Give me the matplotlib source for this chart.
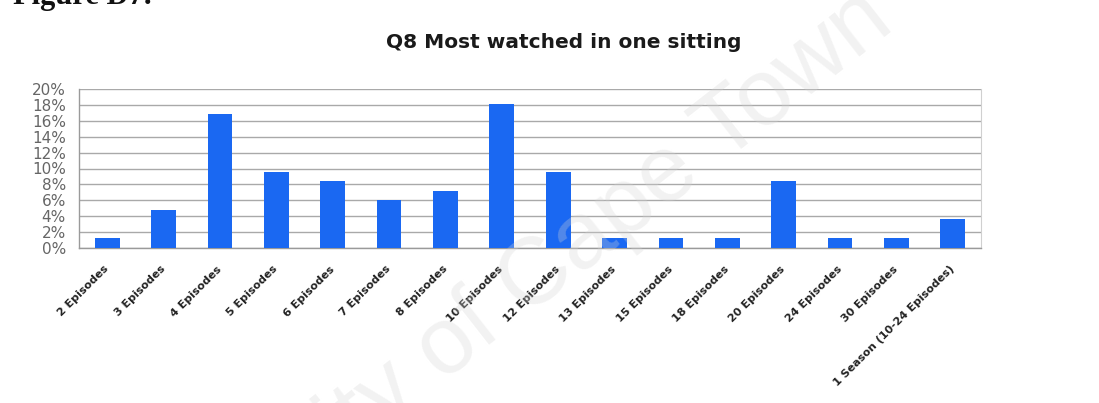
import matplotlib
matplotlib.use("Agg")
import matplotlib.pyplot as plt
import matplotlib.transforms as mtransforms
import numpy as np

# share of respondents per answer (%)
categories = ["2 Episodes", "3 Episodes", "4 Episodes", "5 Episodes", "6 Episodes",
              "7 Episodes", "8 Episodes", "10 Episodes", "12 Episodes", "13 Episodes",
              "15 Episodes", "18 Episodes", "20 Episodes", "24 Episodes", "30 Episodes",
              "1 Season (10-24 Episodes)"]
share = [1.2, 4.8, 16.9, 9.6, 8.4, 6.0, 7.2, 18.1, 9.6, 1.2, 1.2, 1.2, 8.4, 1.2, 1.2, 3.6]
yticks = list(range(0, 21, 2))

W, H = 1099, 403
fig = plt.figure(figsize=(W / 100, H / 100), dpi=100)
fig.patch.set_facecolor("white")

# axes box in pixel terms: x 79..981, y 89..248 (from top)
ax = fig.add_axes([79 / W, 1 - 248 / H, (981 - 79) / W, (248 - 89) / H])
x = np.arange(len(categories))
ax.bar(x, share, width=0.44, color="#1a68f2", zorder=3)

ax.set_xlim(-0.5, len(categories) - 0.5)
ax.set_ylim(0, 20)
ax.set_yticks(yticks)
ax.set_yticklabels([f"{t}%" for t in yticks], fontsize=11, color="#666666")
ax.yaxis.grid(True, color="#a9a9a9", linewidth=1.0, zorder=0)
ax.set_axisbelow(True)

ax.set_xticks(x)
ax.set_xticklabels(categories, rotation=45, ha="right", va="center",
                   rotation_mode="anchor", fontsize=8, fontweight="bold",
                   color="#222222")
shift = mtransforms.ScaledTranslation(-4 / 100, 0, fig.dpi_scale_trans)
for lbl in ax.get_xticklabels():
    lbl.set_transform(lbl.get_transform() + shift)
ax.tick_params(axis="x", length=0, pad=14)
ax.tick_params(axis="y", length=0, pad=9.4)

for side in ("left", "bottom"):
    ax.spines[side].set_color("#9a9a9a")
    ax.spines[side].set_linewidth(1.0)
ax.spines["right"].set_color("#d0d0d0")
ax.spines["top"].set_visible(False)

fig.text(564 / W, 1 - 48 / H, "Q8 Most watched in one sitting", ha="center",
         va="baseline", fontsize=14.5, fontweight="bold", color="#1a1a1a")

# heading of the page, cut at the top edge
fig.text(13 / W, 1 - 4 / H, "Figure D7.", ha="left", va="baseline",
         fontsize=22, fontweight="bold", family="Liberation Serif", color="#111111")

# repository watermark
fig.text(480 / W, 1 - 322 / H, "University of Cape Town", ha="center", va="center",
         rotation=38, fontsize=68, family="Liberation Sans", color="#d4d4d4",
         alpha=0.3, zorder=10)

fig.savefig("out.png", dpi=100, facecolor="white")
